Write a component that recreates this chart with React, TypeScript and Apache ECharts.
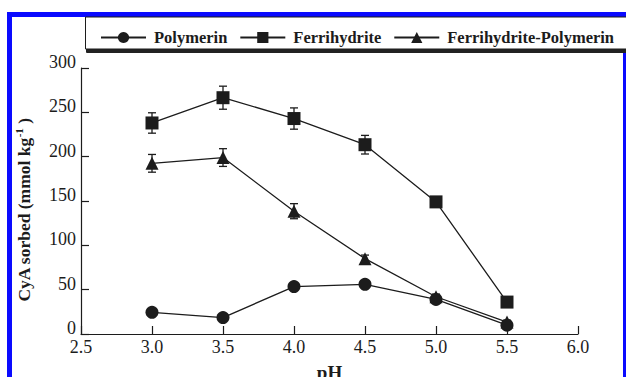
import React, { useEffect, useRef } from "react";
import * as echarts from "echarts";

const phValues = [3.0, 3.5, 4.0, 4.5, 5.0, 5.5];
const polymerin = [24.5, 18.5, 53.5, 56, 39, 10];
const ferrihydrite = [238, 266.5, 243, 213.5, 149, 36];
const ferrihydriteErr = [11.5, 13, 12, 10.5, 4, 3];
const ferriPoly = [192.5, 199, 138.5, 85, 42, 13.5];
const ferriPolyErr = [10, 10, 8.5, 4, 3, 2];
const xTicks = { min: 2.5, max: 6.0, interval: 0.5 };
const yTicks = { min: 0, max: 300, interval: 50 };
const seriesNames = ["Polymerin", "Ferrihydrite", "Ferrihydrite-Polymerin"];
const yTitle = "{a|CyA sorbed (mmol kg}{s|-1}{a| )}";

const FONT = "Liberation Serif, Times New Roman, serif";
const INK = "#1c1c1c";
const BLUE = "#0a0aff";

function pairs(ys: number[]) {
  return phValues.map((x, i) => [x, ys[i]]);
}
function errPairs(ys: number[], es: number[]) {
  return phValues.map((x, i) => [x, ys[i] - es[i], ys[i] + es[i]]);
}

const errRender = (params: any, api: any) => {
  const x = api.value(0);
  const lo = api.coord([x, api.value(1)]);
  const hi = api.coord([x, api.value(2)]);
  const hw = 4;
  const st = { stroke: INK, lineWidth: 1.3 };
  return {
    type: "group",
    children: [
      { type: "line", shape: { x1: lo[0], y1: lo[1], x2: hi[0], y2: hi[1] }, style: st },
      { type: "line", shape: { x1: lo[0] - hw, y1: lo[1], x2: lo[0] + hw, y2: lo[1] }, style: st },
      { type: "line", shape: { x1: hi[0] - hw, y1: hi[1], x2: hi[0] + hw, y2: hi[1] }, style: st },
    ],
  };
};

export default function App() {
  const ref = useRef<HTMLDivElement>(null);
  useEffect(() => {
    document.body.style.margin = "0";
    const chart = echarts.init(ref.current!, null, { renderer: "svg" });
    const lineBase = {
      type: "line",
      lineStyle: { color: INK, width: 1.3 },
      itemStyle: { color: INK },
      symbolSize: 13,
    };
    chart.setOption({
      animation: false,
      backgroundColor: "#ffffff",
      grid: { left: 81, right: 48, top: 68, bottom: 43, containLabel: false, outerBoundsMode: "none" },
      graphic: [
        { type: "rect", z: 0, shape: { x: 7, y: 12, width: 619, height: 5 }, style: { fill: BLUE } },
        { type: "rect", z: 0, shape: { x: 7, y: 12, width: 5, height: 365 }, style: { fill: BLUE } },
        { type: "rect", z: 0, shape: { x: 623, y: 12, width: 3, height: 365 }, style: { fill: BLUE } },
        { type: "rect", z: 0, shape: { x: 86, y: 48, width: 545, height: 5, r: 1 }, style: { fill: "#222" } },
        {
          type: "rect",
          z: 0,
          shape: { x: 85.5, y: 17, width: 545, height: 32 },
          style: { fill: "#fff", stroke: INK, lineWidth: 1 },
        },
        {
          type: "text",
          z: 5,
          x: 24,
          y: 210,
          rotation: Math.PI / 2,
          style: {
            text: yTitle,
            align: "center",
            verticalAlign: "middle",
            rich: {
              a: { fontFamily: FONT, fontWeight: "bold", fontSize: 17.5, fill: INK, lineHeight: 22 },
              s: { fontFamily: FONT, fontWeight: "bold", fontSize: 11, fill: INK, verticalAlign: "top", lineHeight: 22 },
            },
          },
        },
      ],
      legend: {
        left: 95,
        top: 24,
        width: 530,
        z: 10,
        itemWidth: 45,
        itemHeight: 14,
        itemGap: 12,
        data: seriesNames,
        textStyle: {
          fontFamily: FONT,
          fontWeight: "bold",
          fontSize: 16.5,
          color: INK,
          padding: [0, 0, 0, 3],
        },
      },
      xAxis: {
        type: "value",
        min: xTicks.min,
        max: xTicks.max,
        interval: xTicks.interval,
        name: "pH",
        nameLocation: "middle",
        nameGap: 29,
        nameMoveOverlap: false,
        nameTextStyle: { fontFamily: FONT, fontWeight: "bold", fontSize: 19, color: INK },
        axisLine: { onZero: false, lineStyle: { color: INK, width: 1.2 } },
        axisTick: { inside: true, length: 8, lineStyle: { color: INK, width: 1.2 } },
        splitLine: { show: false },
        axisLabel: {
          margin: 4,
          fontFamily: FONT,
          fontSize: 18,
          color: INK,
          formatter: (v: number) => v.toFixed(1),
        },
      },
      yAxis: {
        type: "value",
        min: yTicks.min,
        max: yTicks.max,
        interval: yTicks.interval,
        axisLine: { show: true, onZero: false, lineStyle: { color: INK, width: 1.2 } },
        axisTick: { show: true, inside: true, length: 8, lineStyle: { color: INK, width: 1.2 } },
        splitLine: { show: false },
        axisLabel: {
          margin: 5,
          fontFamily: FONT,
          fontSize: 18,
          color: INK,
          verticalAlign: "bottom",
          lineHeight: 12,
        },
      },
      series: [
        {
          type: "custom",
          name: "errF",
          renderItem: errRender,
          data: errPairs(ferrihydrite, ferrihydriteErr),
          z: 1,
          silent: true,
        },
        {
          type: "custom",
          name: "errFP",
          renderItem: errRender,
          data: errPairs(ferriPoly, ferriPolyErr),
          z: 1,
          silent: true,
        },
        { ...lineBase, name: seriesNames[2], symbol: "triangle", data: pairs(ferriPoly), z: 2 },
        { ...lineBase, name: seriesNames[1], symbol: "rect", data: pairs(ferrihydrite), z: 3 },
        { ...lineBase, name: seriesNames[0], symbol: "circle", data: pairs(polymerin), z: 4 },
      ],
    });
    return () => chart.dispose();
  }, []);
  return <div ref={ref} style={{ width: 626, height: 377 }} />;
}
